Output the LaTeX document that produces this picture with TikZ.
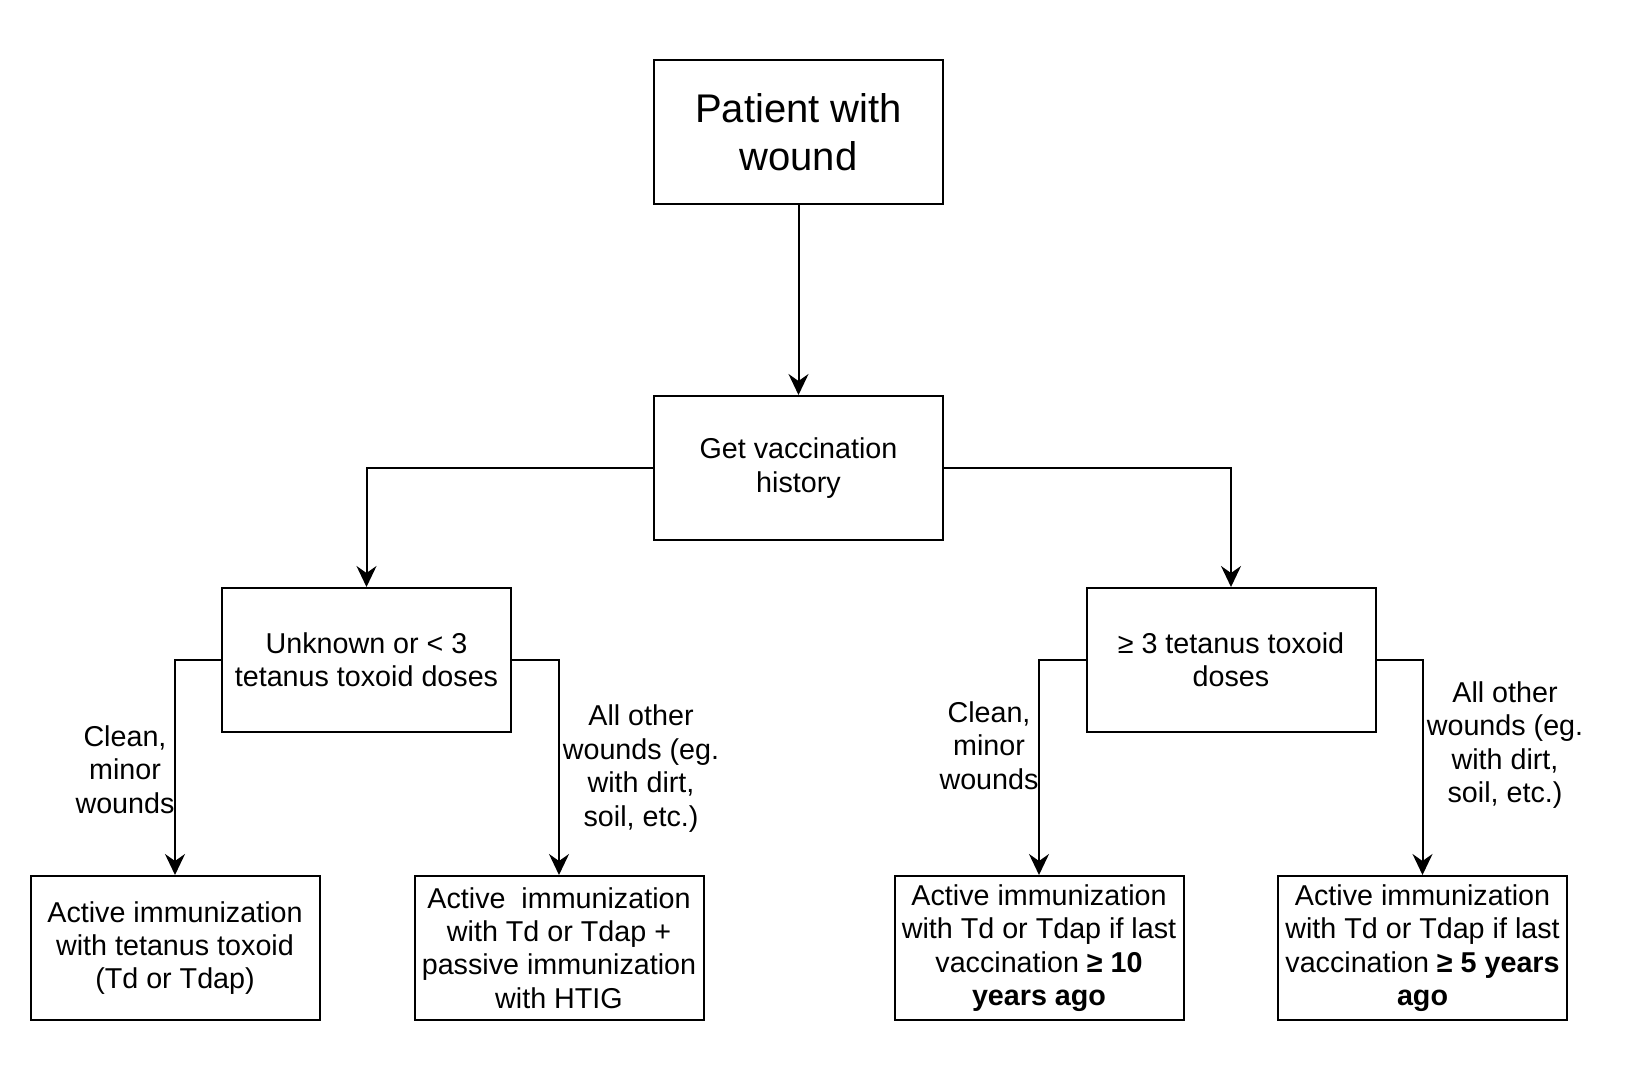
\documentclass[tikz,border=0pt]{standalone}
\usepackage{fontspec}
\setmainfont{Liberation Sans}
\usetikzlibrary{arrows.meta}
\tikzset{
  box/.style={draw=black, line width=2pt, minimum width=289pt, minimum height=144pt, inner sep=0pt, align=center, font=\fontsize{28.7pt}{33.4pt}\selectfont},
  bigbox/.style={box, font=\fontsize{40pt}{48pt}\selectfont},
  lbl/.style={inner sep=0pt, align=center, font=\fontsize{28.7pt}{33.4pt}\selectfont},
  conn/.style={line width=2pt, draw=black},
  arr/.style={conn, -{Stealth[length=21pt, width=20pt, inset=7pt]}}
}
\begin{document}
\begin{tikzpicture}[x=1pt, y=-1pt]
\useasboundingbox (0,0) rectangle (1632,1070);
\fill[white] (0,0) rectangle (1632,1070);

\node[bigbox] (pat) at (798.5,132) {Patient with\\wound};
\node[box] (vac) at (798.5,468) {Get vaccination\\history};
\node[box] (unk) at (366.5,660) {Unknown or {<} 3\\tetanus toxoid doses};
\node[box] (geq) at (1231,660) {≥ 3 tetanus toxoid\\doses};
\node[box] (b1) at (175,948) {Active immunization\\with tetanus toxoid\\(Td or Tdap)};
\node[box] (b2) at (559,948) {Active\ \ immunization\\with Td or Tdap +\\passive immunization\\with HTIG};
\node[box] (b3) at (1039,948) {Active immunization\\with Td or Tdap if last\\vaccination \textbf{≥ 10}\\\textbf{years ago}};
\node[box] (b4) at (1422.5,948) {Active immunization\\with Td or Tdap if last\\vaccination \textbf{≥ 5 years}\\\textbf{ago}};

\draw[arr] (pat.south) -- (vac.north);
\draw[arr] (vac.west) -| (unk.north);
\draw[arr] (vac.east) -| (geq.north);
\draw[arr] (unk.west) -| (b1.north);
\draw[arr] (unk.east) -| (b2.north);
\draw[arr] (geq.west) -| (b3.north);
\draw[arr] (geq.east) -| (b4.north);

\node[lbl] (l1) at (125,769.5) {Clean,\\minor\\wounds};
\node[lbl] (l2) at (641,768.5) {All other\\wounds (eg.\\with dirt,\\soil, etc.)};
\node[lbl] (l3) at (989,745.5) {Clean,\\minor\\wounds};
\node[lbl] (l4) at (1505,745) {All other\\wounds (eg.\\with dirt,\\soil, etc.)};
\end{tikzpicture}
\end{document}
